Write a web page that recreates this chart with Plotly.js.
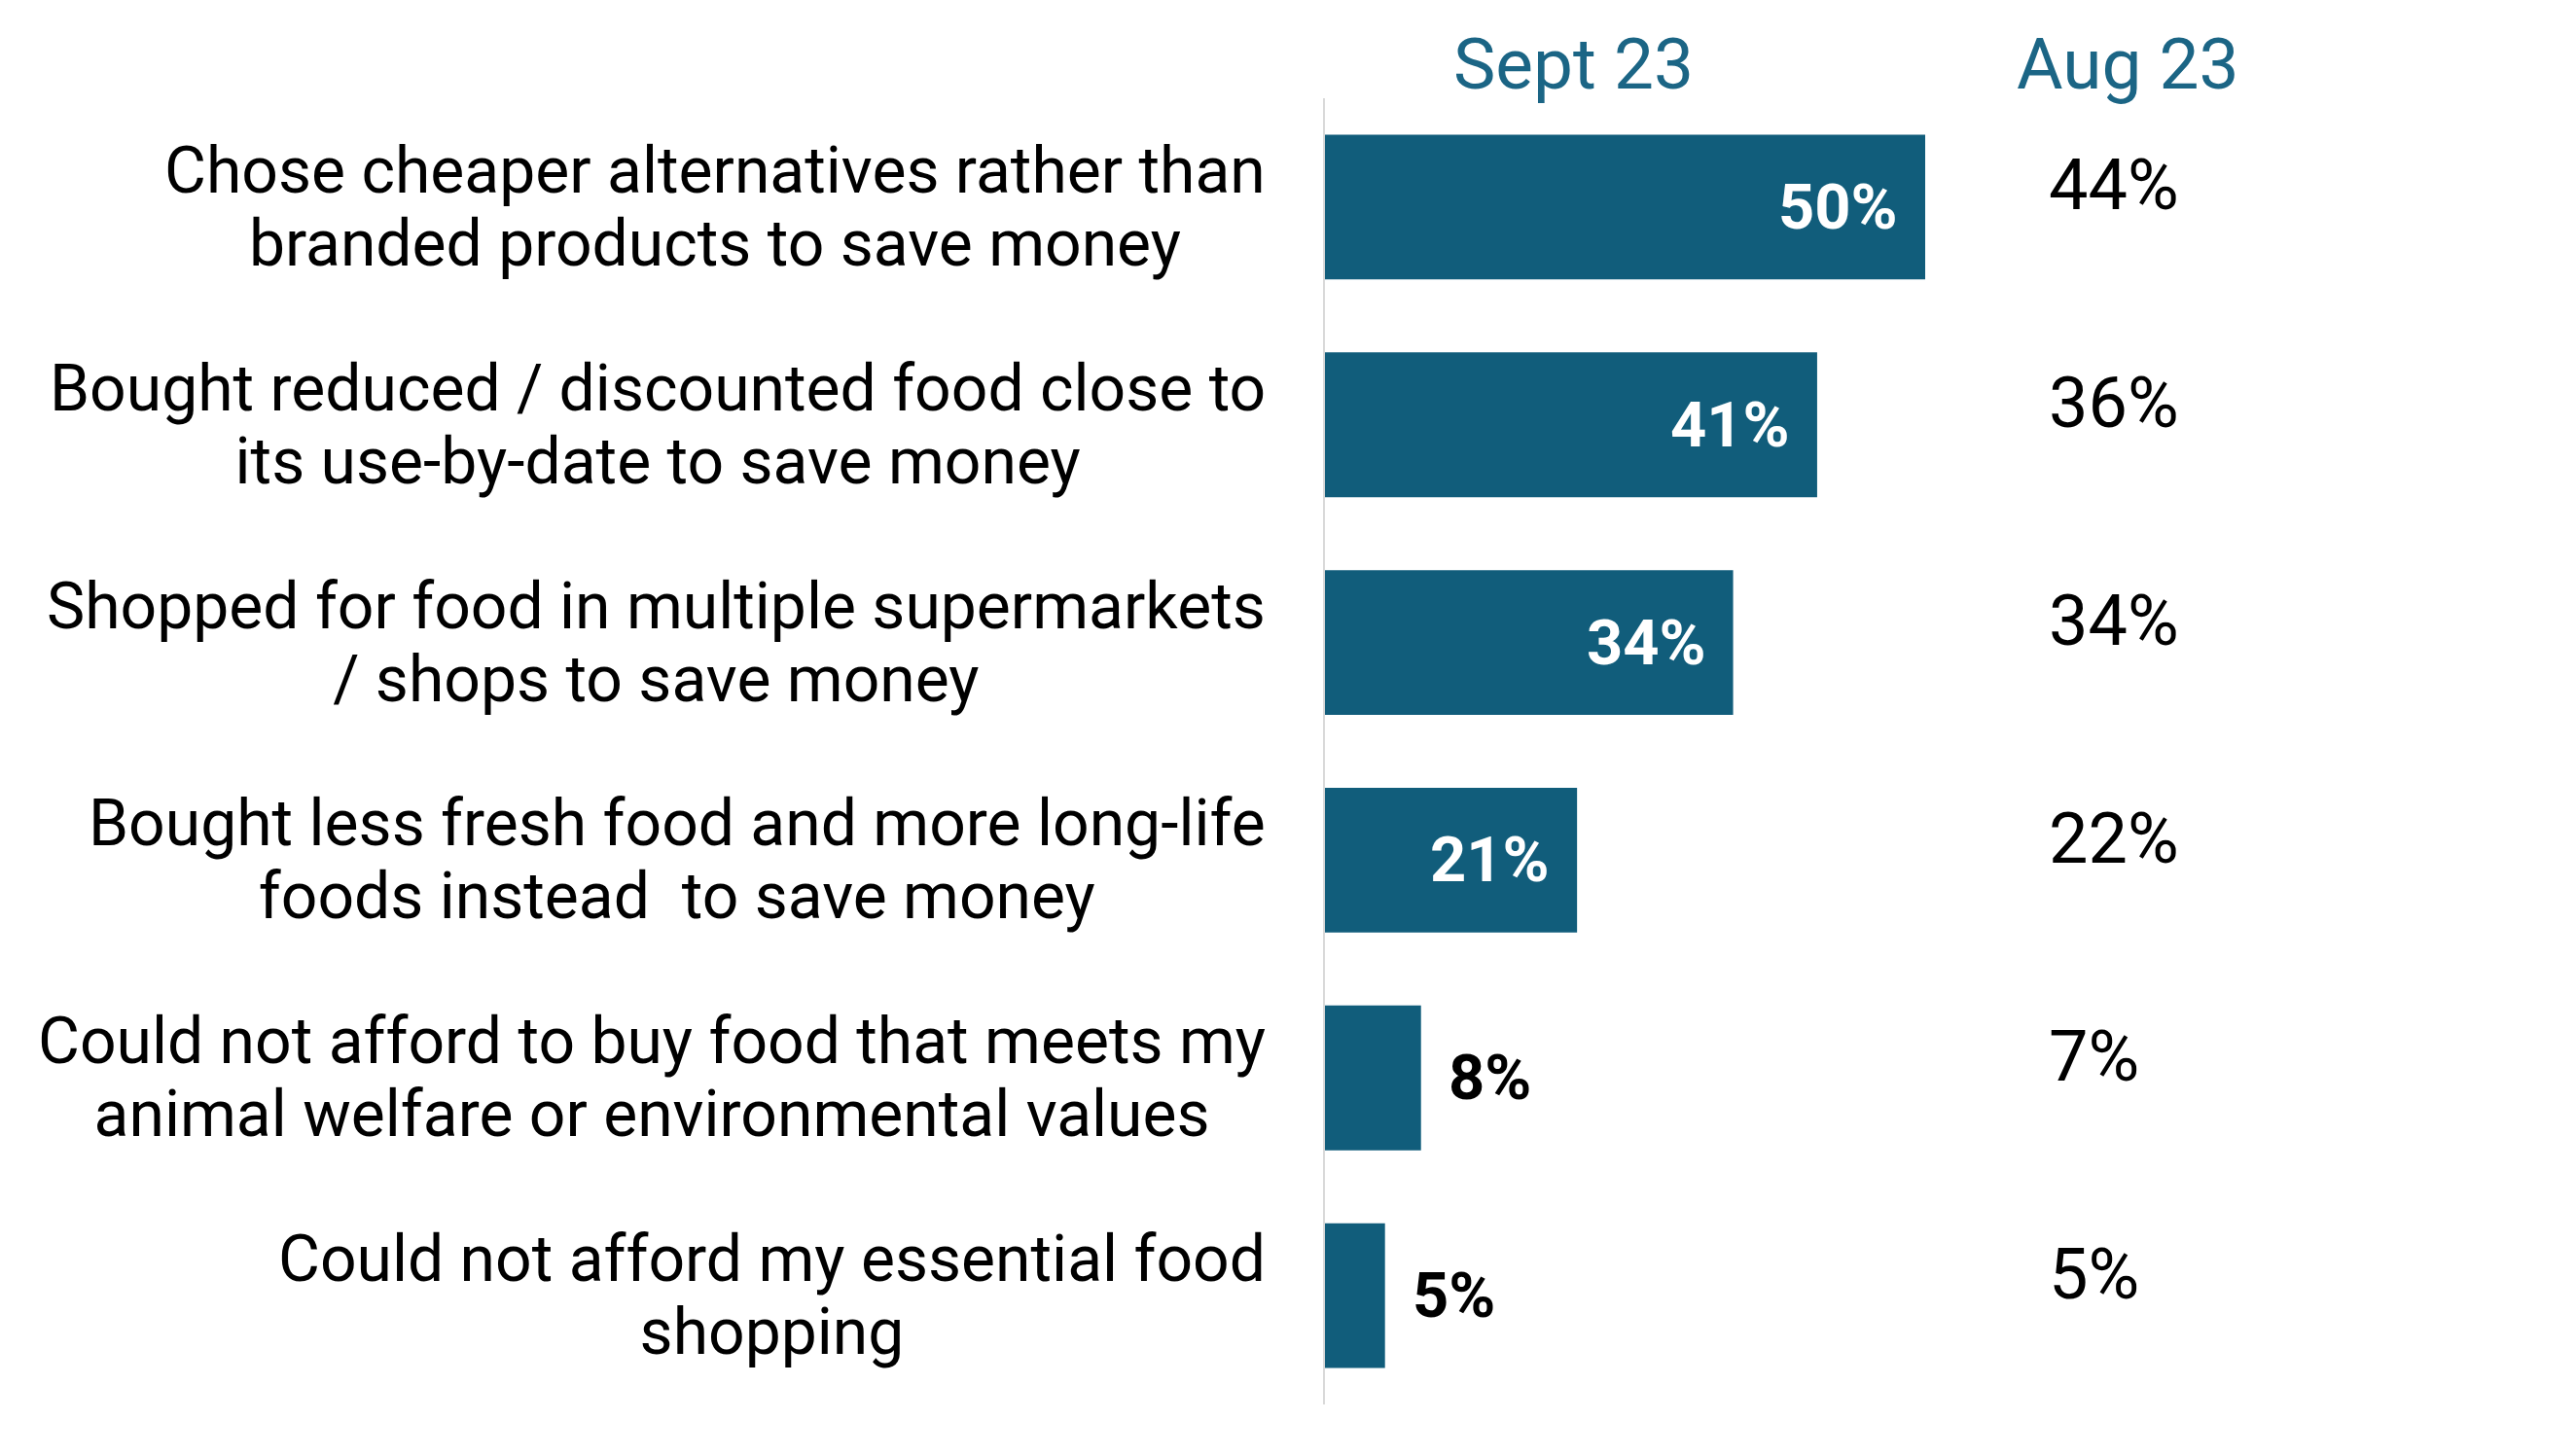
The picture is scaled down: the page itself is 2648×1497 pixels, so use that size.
<!DOCTYPE html>
<html>
<head>
<meta charset="utf-8">
<script src="https://cdn.plot.ly/plotly-3.0.1.min.js"></script>
<style>
  html, body { margin: 0; padding: 0; background: #fff; }
  #chart { width: 2648px; height: 1497px; }
</style>
</head>
<body>
<div id="chart"></div>
<script>
// categories, top to bottom
var categories = [
  'Chose cheaper alternatives rather than<br>branded products to save money',
  'Bought reduced / discounted food close to<br>its use-by-date to save money',
  'Shopped for food in multiple supermarkets<br>/ shops to save money',
  'Bought less fresh food and more long-life<br>foods instead \u00a0to save money',
  'Could not afford to buy food that meets my<br>animal welfare or environmental values',
  'Could not afford my essential food<br>shopping'
];
var sept23 = [50, 41, 34, 21, 8, 5];
var aug23 = [44, 36, 34, 22, 7, 5];
var headers = ['Sept 23', 'Aug 23'];

var barColor = '#115d7b';
var headColor = '#1b6585';
var font = 'Roboto, "Open Sans", sans-serif';

var data = [{
  type: 'bar',
  orientation: 'h',
  x: sept23,
  y: categories,
  marker: {color: barColor},
  hoverinfo: 'skip',
  showlegend: false
}];

var annotations = [];

// category labels, centred lines, right edge near the axis
// (line spacing follows the 58px base size, glyphs drawn at 66px)
categories.forEach(function(c){
  var txt = c.split('<br>').map(function(s){
    return '<span style="font-size:66px">' + s + '</span>';
  }).join('<br>');
  annotations.push({
    x: 0, y: c, xref: 'x', yref: 'y',
    text: txt, showarrow: false,
    xanchor: 'right', yanchor: 'middle', align: 'center',
    xshift: -59,
    font: {family: font, size: 58, color: '#000'}
  });
});

// sept 23 value labels: inside the bar when it is long enough
sept23.forEach(function(v, i){
  var inside = v >= 15;
  annotations.push({
    x: v, y: categories[i], xref: 'x', yref: 'y',
    text: '<b>' + v + '%</b>', showarrow: false,
    xanchor: inside ? 'right' : 'left', yanchor: 'middle',
    xshift: inside ? -26 : 26,
    font: {family: font, size: 65, color: inside ? '#fff' : '#000'}
  });
});

// aug 23 column
aug23.forEach(function(v, i){
  annotations.push({
    x: 60.1, y: categories[i], xref: 'x', yref: 'y',
    text: v + '%', showarrow: false,
    xanchor: 'left', yanchor: 'middle',
    yshift: 22,
    font: {family: font, size: 72, color: '#000'}
  });
});

// column headers
[20.7, 66.9].forEach(function(px, i){
  annotations.push({
    x: px, y: 1.026, xref: 'x', yref: 'paper',
    text: headers[i], showarrow: false,
    xanchor: 'center', yanchor: 'middle',
    font: {family: font, size: 73, color: headColor}
  });
});

var layout = {
  width: 2648,
  height: 1497,
  margin: {l: 1362, r: 52, t: 101, b: 53},
  paper_bgcolor: '#fff',
  plot_bgcolor: '#fff',
  bargap: 0.335,
  font: {family: font},
  xaxis: {
    range: [0, 100],
    showgrid: false,
    zeroline: false,
    showline: false,
    showticklabels: false,
    ticks: ''
  },
  yaxis: {
    autorange: 'reversed',
    showgrid: false,
    zeroline: false,
    showline: true,
    linecolor: '#d9d9d9',
    linewidth: 2,
    showticklabels: false,
    ticks: ''
  },
  annotations: annotations
};

Plotly.newPlot('chart', data, layout, {displayModeBar: false, staticPlot: true});
</script>
</body>
</html>
